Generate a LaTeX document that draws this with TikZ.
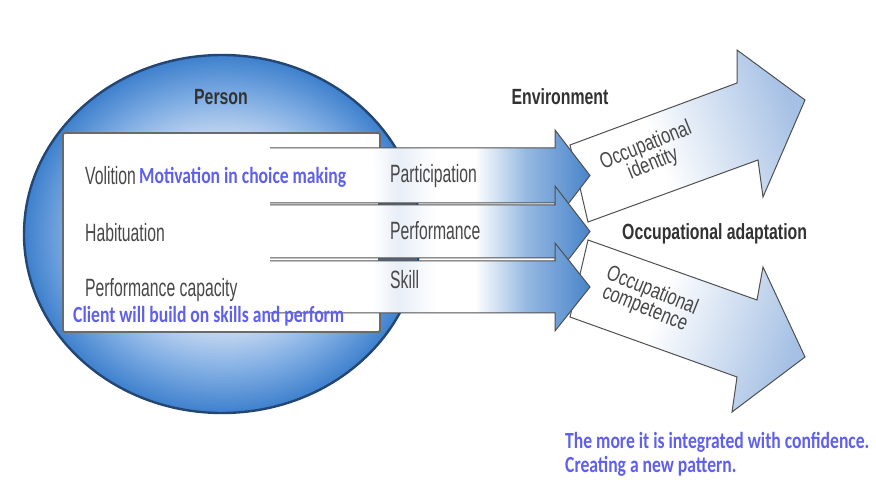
\documentclass[tikz,border=0pt]{standalone}
\usepackage{graphicx}
\usepackage{fontspec}
\setmainfont{Liberation Sans}
\newfontfamily\calib{Carlito}
\definecolor{gtext}{RGB}{72,72,72}
\definecolor{gline}{RGB}{80,80,80}
\definecolor{btext}{RGB}{95,95,240}
\definecolor{rim}{RGB}{35,70,115}
\definecolor{cin}{RGB}{236,241,250}
\definecolor{cm1}{RGB}{208,222,243}
\definecolor{cm2}{RGB}{130,175,228}
\definecolor{cout}{RGB}{62,128,205}
\definecolor{hw}{RGB}{246,248,252}
\definecolor{hl}{RGB}{232,238,247}
\definecolor{hm}{RGB}{150,185,225}
\definecolor{hblue}{RGB}{72,132,202}
\definecolor{bigblue}{RGB}{165,192,228}
\definecolor{segc}{RGB}{85,100,120}
\pgfdeclareradialshading{ballshade}{\pgfpoint{0bp}{0bp}}{color(0bp)=(cin); color(12.5bp)=(cm1); color(19bp)=(cm2); color(25bp)=(cout); color(50bp)=(cout)}
\pgfdeclarehorizontalshading{harrow}{100bp}{color(0bp)=(white); color(25bp)=(white); color(41bp)=(white); color(45bp)=(hl); color(51bp)=(white); color(57bp)=(white); color(65bp)=(hm); color(75bp)=(hblue); color(100bp)=(hblue)}
\pgfdeclarehorizontalshading{bigarrow}{100bp}{color(0bp)=(white); color(25bp)=(white); color(42bp)=(white); color(75bp)=(bigblue); color(100bp)=(bigblue)}
\newcommand{\nx}[1]{\scalebox{0.72}[1]{#1}}
\newcommand{\gx}[1]{\scalebox{0.63}[1]{#1}}
\newcommand{\bx}[1]{\scalebox{0.8}[1.05]{#1}}
\begin{document}
\begin{tikzpicture}[x=1pt,y=-1pt,
  lbl/.style={anchor=base west, inner sep=0pt, text=gtext, font=\fontsize{25}{28}\selectfont},
  hdr/.style={anchor=base, inner sep=0pt, text=gtext!70!black, font=\bfseries\fontsize{22}{26}\selectfont},
  note/.style={anchor=base west, inner sep=0pt, text=btext, font=\calib\bfseries\fontsize{22}{25}\selectfont},
  rot/.style={inner sep=0pt, text=gtext, font=\fontsize{22}{22}\selectfont},
  arrline/.style={draw=gline, line width=1pt, line join=miter}]
\useasboundingbox (0,0) rectangle (876,494);
\fill[white] (0,0) rectangle (876,494);

% person circle
\shade[shading=ballshade] (222,234) ellipse [x radius=198, y radius=179];
\draw[rim, line width=2.4pt] (222,234) ellipse [x radius=198, y radius=179];
\coordinate (ball) at (222,234);

% inner box
\draw[fill=white, draw=gline!85, line width=1.8pt, rounded corners=2pt] (63,133) rectangle (380,332);

% big diagonal arrows
\shade[shading=bigarrow, shading angle=20] (588,222) -- (570,145) -- (737,83) -- (737,50) -- (805,100) -- (763,197) -- (758,160) -- cycle;
\draw[arrline] (588,222) -- (570,145) -- (737,83) -- (737,50) -- (805,100) -- (763,197) -- (758,160) -- cycle;
\shade[shading=bigarrow, shading angle=-20] (570,317) -- (588,240) -- (757,300) -- (763,267) -- (805,357) -- (732,412) -- (737,377) -- cycle;
\draw[arrline] (570,317) -- (588,240) -- (757,300) -- (763,267) -- (805,357) -- (732,412) -- (737,377) -- cycle;

% small dark segments between arrows
\fill[segc] (378,202) rectangle (416,207);
\fill[segc] (378,257) rectangle (416,262);

% horizontal arrows
\shade[shading=harrow] (270,148) -- (555,148) -- (555,130) -- (590,175.5) -- (555,221) -- (555,203) -- (270,203) -- cycle;
\draw[arrline] (270,148) -- (555,148) -- (555,130) -- (590,175.5) -- (555,221) -- (555,203) -- (270,203);
\shade[shading=harrow] (270,205) -- (555,205) -- (555,186) -- (590,231.5) -- (555,277) -- (555,258) -- (270,258) -- cycle;
\draw[arrline] (270,205) -- (555,205) -- (555,186) -- (590,231.5) -- (555,277) -- (555,258) -- (270,258);
\shade[shading=harrow] (270,261) -- (555,261) -- (555,243) -- (590,287) -- (555,331) -- (555,313) -- (270,313) -- cycle;
\draw[arrline] (270,261) -- (555,261) -- (555,243) -- (590,287) -- (555,331) -- (555,313) -- (270,313);

% labels
\node[hdr] (person) at (221,105) {\nx{Person}};
\node[hdr] (env) at (560,105) {\nx{Environment}};
\node[hdr, anchor=base west] (adapt) at (622,240) {\nx{Occupational adaptation}};
\node[lbl] (vol) at (85,185) {\gx{Volition}};
\node[lbl] (hab) at (85,242) {\gx{Habituation}};
\node[lbl] (pcap) at (85,297) {\gx{Performance capacity}};
\node[lbl] (part) at (390,183) {\gx{Participation}};
\node[lbl] (perf) at (390,240) {\gx{Performance}};
\node[lbl] (skill) at (390,289) {\gx{Skill}};
\node[rot, rotate=22] (ident) at (650,156) {\scalebox{0.75}[1]{\begin{tabular}{@{}c@{}}Occupational\\[-3pt]identity\end{tabular}}};
\node[rot, rotate=-22] (comp) at (648,301) {\scalebox{0.75}[1]{\begin{tabular}{@{}c@{}}Occupational\\[-3pt]competence\end{tabular}}};

% blue notes
\node[note] (motiv) at (139,184) {\bx{Motivation in choice making}};
\node[note] (client) at (73,323) {\bx{Client will build on skills and perform}};
\node[note] (more1) at (565,448) {\bx{The more it is integrated with confidence.}};
\node[note] (more2) at (565,472) {\bx{Creating a new pattern.}};
\end{tikzpicture}
\end{document}
